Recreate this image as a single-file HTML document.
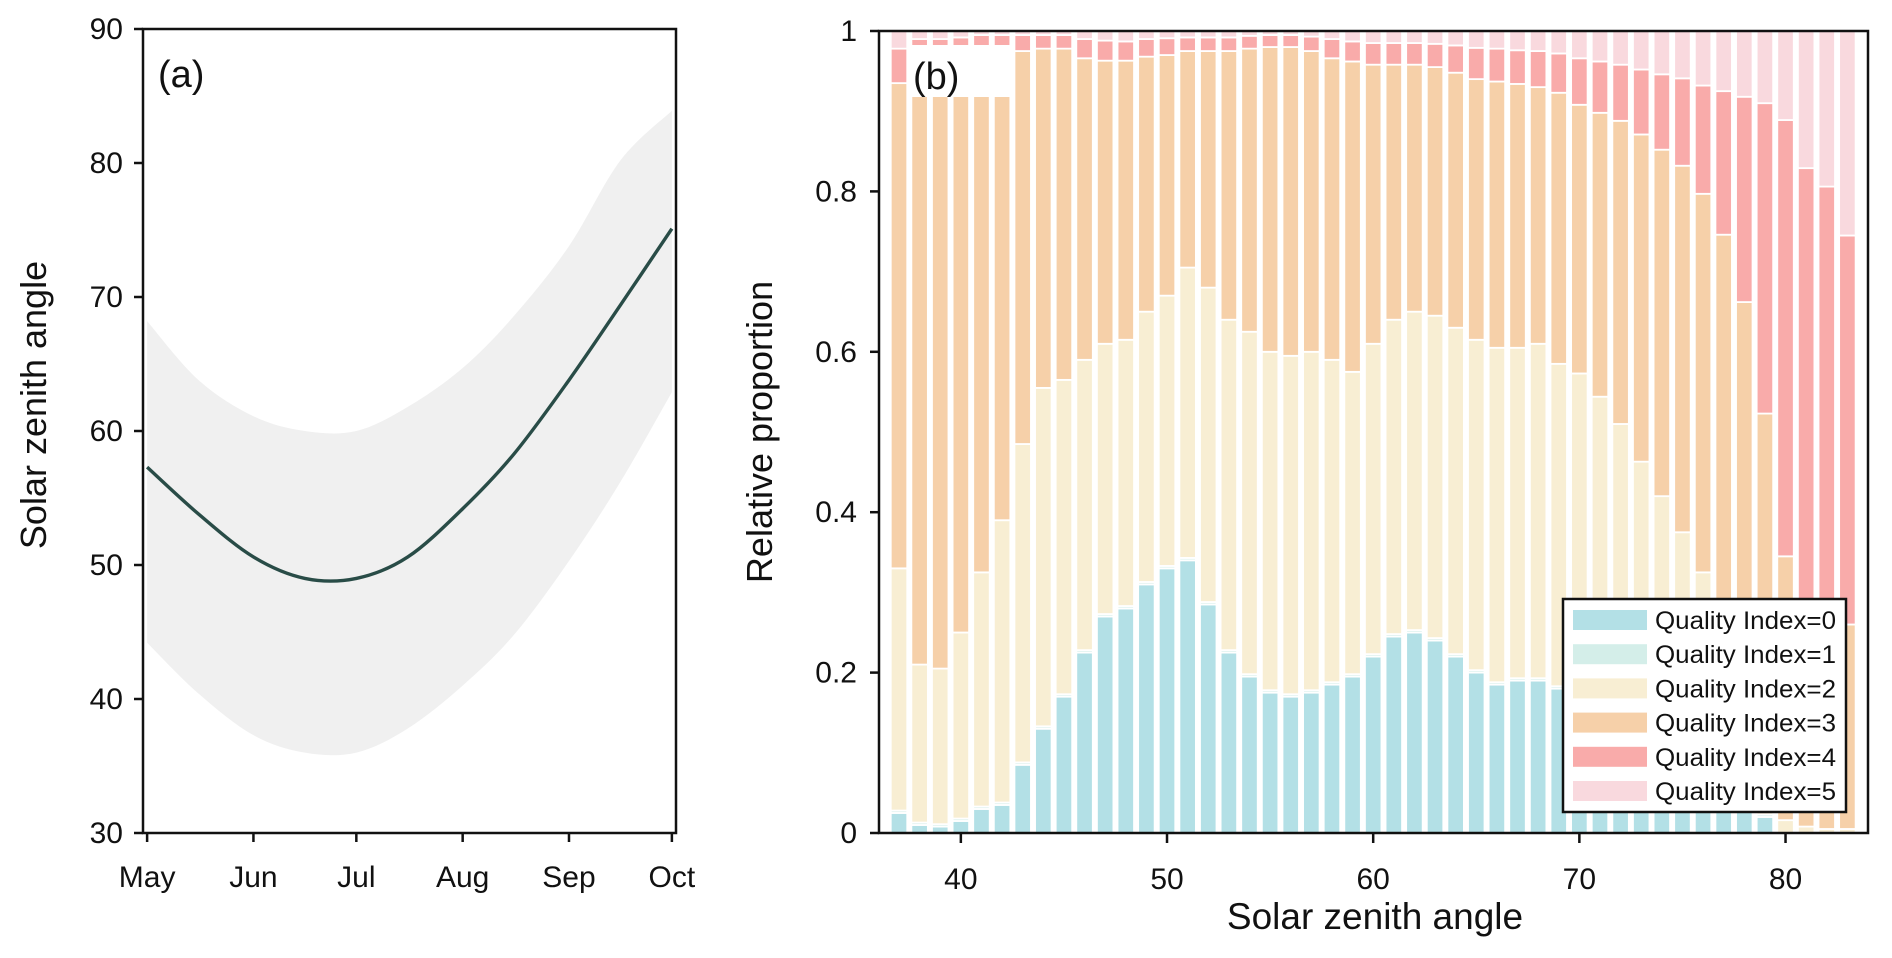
<!DOCTYPE html>
<html><head><meta charset="utf-8"><style>
html,body{margin:0;padding:0;background:#fff;}
svg{display:block;font-family:"Liberation Sans",Arial,sans-serif;}
</style></head><body>
<svg id="fig" width="1892" height="958" viewBox="0 0 1892 958" xmlns="http://www.w3.org/2000/svg">
<g id="pa"></g>
<g id="pb"></g>
</svg>
<script>
// ---------- Panel (a) data ----------
const monthLabels = ["May","Jun","Jul","Aug","Sep","Oct"];
const monthDays = [0,31,61,92,123,153];
const aTicks = [30,40,50,60,70,80,90];
const lineDays = [0,15,31,46,61,76,92,107,123,138,153];
const lineVals = [57.3,53.8,50.6,49.0,49.0,50.6,54.2,58.3,63.8,69.4,75.1];
const bandDays = [0,15,31,46,61,76,92,107,123,138,153];
const bandUpper = [68.2,63.8,61.1,60.0,60.0,61.8,64.7,68.6,73.8,80.2,83.9];
const bandLower = [44.2,40.4,37.3,36.0,36.0,37.8,41.0,44.8,50.3,56.2,62.9];

// ---------- Panel (b) data ----------
const angles = [37,38,39,40,41,42,43,44,45,46,47,48,49,50,51,52,53,54,55,56,57,58,59,60,61,62,63,64,65,66,67,68,69,70,71,72,73,74,75,76,77,78,79,80,81,82,83];
const q0 = [.025,.01,.008,.015,.03,.035,.085,.13,.17,.225,.27,.28,.31,.33,.34,.285,.225,.195,.175,.17,.175,.185,.195,.22,.245,.25,.24,.22,.2,.185,.19,.19,.18,.16,.14,.12,.1,.08,.06,.045,.035,.03,.02,0,0,0,0];
const q1 = [.003,.003,.003,.003,.003,.003,.003,.003,.003,.003,.003,.003,.003,.003,.003,.003,.003,.003,.003,.003,.003,.003,.003,.003,.003,.003,.003,.003,.003,.003,.003,.003,.003,.003,.003,.003,.003,.003,.003,.003,.003,.003,.003,0,0,0,0];
const q2 = [.302,.197,.194,.232,.292,.352,.397,.422,.392,.362,.337,.332,.337,.337,.362,.392,.412,.427,.422,.422,.422,.402,.377,.387,.392,.397,.402,.407,.412,.417,.412,.417,.402,.41,.401,.387,.36,.337,.312,.277,.212,.147,.057,.016,.008,.005,.005];
const q3 = [.605,.71,.715,.67,.641,.58,.49,.423,.413,.376,.353,.348,.318,.30,.27,.295,.335,.353,.38,.385,.375,.376,.387,.348,.318,.308,.31,.318,.325,.332,.329,.32,.338,.335,.354,.378,.408,.432,.457,.472,.496,.482,.443,.329,.212,.195,.255];
const q4 = [.043,.07,.07,.072,.029,.025,.02,.017,.017,.024,.025,.024,.022,.021,.017,.017,.017,.016,.015,.015,.018,.024,.025,.027,.027,.027,.029,.034,.039,.041,.042,.045,.049,.058,.064,.07,.081,.094,.109,.135,.179,.256,.387,.544,.609,.606,.485];
const q5 = [.022,.01,.01,.008,.005,.005,.005,.005,.005,.01,.012,.013,.01,.009,.008,.008,.008,.006,.005,.005,.007,.01,.013,.015,.015,.015,.016,.018,.021,.022,.024,.025,.028,.034,.038,.042,.048,.054,.059,.068,.075,.082,.09,.111,.171,.194,.255];
const seriesLabels = ["Quality Index=0","Quality Index=1","Quality Index=2","Quality Index=3","Quality Index=4","Quality Index=5"];
const bTicksY = [0,0.2,0.4,0.6,0.8,1];
const bTickLabelsY = ["0","0.2","0.4","0.6","0.8","1"];
const bTicksX = [40,50,60,70,80];

const NS="http://www.w3.org/2000/svg";
function mk(parent,tag,attrs){const e=document.createElementNS(NS,tag);for(const k in attrs)e.setAttribute(k,attrs[k]);parent.appendChild(e);return e;}
function smoothPts(pts,first){
  let d=first?("M"+pts[0][0]+","+pts[0][1]):("L"+pts[0][0]+","+pts[0][1]);
  for(let i=0;i<pts.length-1;i++){
    const p0=pts[Math.max(0,i-1)],p1=pts[i],p2=pts[i+1],p3=pts[Math.min(pts.length-1,i+2)];
    const c1x=p1[0]+(p2[0]-p0[0])/6,c1y=p1[1]+(p2[1]-p0[1])/6;
    const c2x=p2[0]-(p3[0]-p1[0])/6,c2y=p2[1]-(p3[1]-p1[1])/6;
    d+=` C${c1x},${c1y} ${c2x},${c2y} ${p2[0]},${p2[1]}`;
  }
  return d;
}

// ===== Panel A =====
(function(){
const g=document.getElementById('pa');
const L=143,R=676,T=29,B=833;
const dayMin=-1.2,dayMax=154.2;
const xs=d=>L+(d-dayMin)/(dayMax-dayMin)*(R-L);
const ys=v=>B-(v-30)/60*(B-T);
const up=bandDays.map((d,i)=>[xs(d),ys(bandUpper[i])]);
const lo=bandDays.map((d,i)=>[xs(d),ys(bandLower[i])]).reverse();
const band=mk(g,'path',{d:smoothPts(up,true)+" "+smoothPts(lo,false)+" Z",fill:'#f0f0f0'});


const ln=mk(g,'path',{d:smoothPts(lineDays.map((d,i)=>[xs(d),ys(lineVals[i])]),true),fill:'none',stroke:'#294c47','stroke-width':3.4});


const fr=mk(g,'rect',{x:L,y:T,width:R-L,height:B-T,fill:'none',stroke:'#111','stroke-width':2.5});


aTicks.forEach(v=>{
  const y=ys(v);
  const t=mk(g,'line',{x1:L-9,x2:L,y1:y,y2:y,stroke:'#111','stroke-width':2.5});
  
  
  const lb=mk(g,'text',{x:L-20,y:y+10,'text-anchor':'end','font-size':30,fill:'#111'});
  lb.textContent=v;
  
  
});
monthDays.forEach((d,i)=>{
  const x=xs(d);
  const t=mk(g,'line',{x1:x,x2:x,y1:B,y2:B+9,stroke:'#111','stroke-width':2.5});
  
  
  const lb=mk(g,'text',{x:x,y:B+54,'text-anchor':'middle','font-size':30,fill:'#111'});
  lb.textContent=monthLabels[i];
  
  
});
const yt=mk(g,'text',{x:0,y:0,transform:`translate(46,${(T+B)/2-26}) rotate(-90)`,'text-anchor':'middle','font-size':36,fill:'#111'});
yt.textContent="Solar zenith angle";


const pl=mk(g,'text',{x:158,y:87,'font-size':38,fill:'#111'});
pl.textContent="(a)";


})();

// ===== Panel B =====
(function(){
const g=document.getElementById('pb');
const L=879,R=1868,T=31,B=833;
const xMin=36.03,xMax=84.0;
const xs=v=>L+(v-xMin)/(xMax-xMin)*(R-L);
const ys=v=>B-v*(B-T);
const colors=['#b3e0e6','#d4eee9','#f8eed3','#f6d0a9','#f9abaa','#f9d9de'];
const series=[q0,q1,q2,q3,q4,q5];
const bw=(xs(1)-xs(0))*0.8;
angles.forEach((a,i)=>{
  let acc=0;
  series.forEach((s,k)=>{
    const v=s[i];
    if(v<=0) return;
    const y0=ys(acc),y1=ys(acc+v);
    const r=mk(g,'rect',{x:xs(a)-bw/2,y:y1,width:bw,height:y0-y1,fill:colors[k],stroke:'#fff','stroke-width':1.8});
    
    
    acc+=v;
  });
});
const fr=mk(g,'rect',{x:L,y:T,width:R-L,height:B-T,fill:'none',stroke:'#111','stroke-width':2.5});


bTicksY.forEach((v,i)=>{
  const y=ys(v);
  const t=mk(g,'line',{x1:L-9,x2:L,y1:y,y2:y,stroke:'#111','stroke-width':2.5});
  
  
  const lb=mk(g,'text',{x:L-22,y:y+10,'text-anchor':'end','font-size':30,fill:'#111'});
  lb.textContent=bTickLabelsY[i];
  
  
});
bTicksX.forEach(v=>{
  const x=xs(v);
  const t=mk(g,'line',{x1:x,x2:x,y1:B,y2:B+10,stroke:'#111','stroke-width':2.5});
  
  
  const lb=mk(g,'text',{x:x,y:B+56,'text-anchor':'middle','font-size':30,fill:'#111'});
  lb.textContent=v;
  
  
});
const xt=mk(g,'text',{x:1375,y:929,'text-anchor':'middle','font-size':37,fill:'#111'});
xt.textContent="Solar zenith angle";


const yt=mk(g,'text',{x:0,y:0,transform:`translate(772,${(T+B)/2})  rotate(-90)`,'text-anchor':'middle','font-size':36,fill:'#111'});
yt.textContent="Relative proportion";


const lbg=mk(g,'rect',{x:910,y:45,width:100,height:52,fill:'#fff'});


const pl=mk(g,'text',{x:913,y:89,'font-size':38,fill:'#111'});
pl.textContent="(b)";


// legend
const lg=mk(g,'g',{});


const box=mk(lg,'rect',{x:1563,y:599,width:283,height:213,fill:'#fff',stroke:'#111','stroke-width':2.5});


seriesLabels.forEach((s,k)=>{
  const cy=620+k*34.2;
  const p=mk(lg,'rect',{x:1573,y:cy-10,width:74,height:20,fill:colors[k]});
  
  
  const t=mk(lg,'text',{x:1655,y:cy+9,'font-size':25,fill:'#111',textLength:181,lengthAdjust:'spacingAndGlyphs'});
  t.textContent=s;
  
  
});
})();
</script>
</body></html>
